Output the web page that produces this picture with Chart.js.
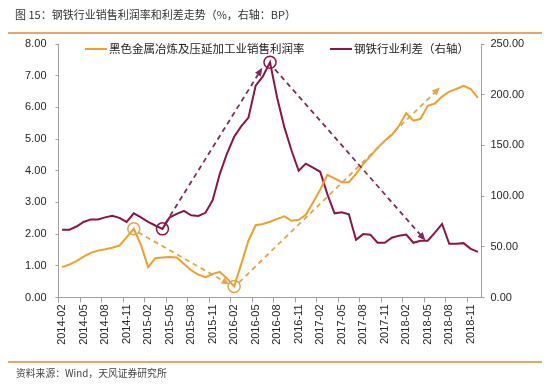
<!DOCTYPE html>
<html>
<head>
<meta charset="utf-8">
<script src="https://cdn.jsdelivr.net/npm/chart.js@4.4.1/dist/chart.umd.min.js"></script>
<style>
  body { margin: 0; background: #fff; }
  #wrap { position: relative; width: 550px; height: 387px; overflow: hidden; background: #fff; }
  #chart { position: absolute; left: 0; top: 0; }
  .txt { position: absolute; white-space: nowrap; font-family: "Noto Sans CJK SC", sans-serif; line-height: 16px; }
  #title { left: 15px; top: 6px; font-size: 11px; color: #333; }
  #source { left: 16px; top: 365px; font-size: 9.8px; color: #444; }
  .rule { position: absolute; left: 8px; width: 534px; background: #e9a566; }
</style>
</head>
<body>
<div id="wrap">
  <canvas id="chart" width="550" height="387"></canvas>
  <div class="txt" id="title">图 15：钢铁行业销售利润率和利差走势（%，右轴：BP）</div>
  <div class="rule" style="top:32px;height:2px"></div>
  <div class="rule" style="top:361px;height:1.5px"></div>
  <div class="txt" id="source">资料来源：Wind，天风证券研究所</div>
</div>
<script>
const months = [
  '2014-02', '2014-03', '2014-04', '2014-05', '2014-06', '2014-07', '2014-08', '2014-09', '2014-10', '2014-11', '2014-12',
  '2015-01', '2015-02', '2015-03', '2015-04', '2015-05', '2015-06', '2015-07', '2015-08', '2015-09', '2015-10', '2015-11', '2015-12',
  '2016-01', '2016-02', '2016-03', '2016-04', '2016-05', '2016-06', '2016-07', '2016-08', '2016-09', '2016-10', '2016-11', '2016-12',
  '2017-01', '2017-02', '2017-03', '2017-04', '2017-05', '2017-06', '2017-07', '2017-08', '2017-09', '2017-10', '2017-11', '2017-12',
  '2018-01', '2018-02', '2018-03', '2018-04', '2018-05', '2018-06', '2018-07', '2018-08', '2018-09', '2018-10', '2018-11', '2018-12'
]

// 黑色金属冶炼及压延加工业销售利润率 (%)
const profitRate = [
  0.96, 1.04, 1.15, 1.29, 1.41, 1.48, 1.52, 1.57, 1.64, 1.90, 2.17,
  1.66, 0.96, 1.24, 1.26, 1.28, 1.26, 1.06, 0.86, 0.72, 0.64, 0.74, 0.81,
  0.60, 0.35, 1.06, 1.80, 2.28, 2.32, 2.39, 2.48, 2.56, 2.42, 2.45, 2.61,
  3.00, 3.40, 3.87, 3.76, 3.64, 3.64, 3.90, 4.21, 4.46, 4.72, 4.95, 5.13,
  5.42, 5.82, 5.58, 5.64, 6.05, 6.12, 6.34, 6.50, 6.58, 6.68, 6.58, 6.30
]

// 钢铁行业利差 (BP)
const spread = [
  66.7, 66.7, 70, 74.5, 77, 77, 79, 80.5, 78.5, 74.5, 83,
  79, 74.5, 71, 67.7, 79, 82.5, 85.4, 81, 80.5, 83.5, 96, 122,
  142, 158.5, 169, 177.5, 209, 218, 232, 197, 168, 145, 125, 132,
  128, 124, 102, 83, 84, 82, 57, 62.5, 62, 54, 54, 59,
  61, 62, 54, 56, 56, 64, 72.5, 53, 53, 53.6, 48, 45
]

const leftTicks = [0, 8, 1]
const rightTicks = [0, 250, 50]

// circled points: [category index, value]
const profitCircles = [[10, 2.17], [24, 0.35]]
const spreadCircles = [[14, 67.7], [29, 232]]

// dashed arrows: [from index, from value, to index, to value]
const profitArrows = [[10.6, 2.06, 23.0, 0.46], [24.7, 0.48, 52.4, 6.56]]
const spreadArrows = [[14.4, 73, 27.7, 224], [29.7, 225, 50.4, 58.5]]

const orange = '#f0a02a'
const maroon = '#8c1446'
const orangeDash = '#e3a450'
const maroonDash = '#7a2c5c'
const axisGray = '#a0a0a0'
const tickFont = { family: '"Liberation Sans", Arial, sans-serif', size: 11 }

const arrow = (ctx, x0, y0, x1, y1, color) => {
    ctx.save()
    ctx.strokeStyle = color
    ctx.lineWidth = 1.8
    ctx.setLineDash([5, 4])
    ctx.beginPath()
    ctx.moveTo(x0, y0)
    ctx.lineTo(x1, y1)
    ctx.stroke()
    const a = Math.atan2(y1 - y0, x1 - x0)
    ctx.setLineDash([])
    ctx.fillStyle = color
    ctx.beginPath()
    ctx.moveTo(x1 + 3 * Math.cos(a), y1 + 3 * Math.sin(a))
    ctx.lineTo(x1 - 5 * Math.cos(a) - 3.5 * Math.sin(a), y1 - 5 * Math.sin(a) + 3.5 * Math.cos(a))
    ctx.lineTo(x1 - 5 * Math.cos(a) + 3.5 * Math.sin(a), y1 - 5 * Math.sin(a) - 3.5 * Math.cos(a))
    ctx.closePath()
    ctx.fill()
    ctx.restore()
}

const circle = (ctx, x, y, color) => {
    ctx.save()
    ctx.strokeStyle = color
    ctx.lineWidth = 1.5
    ctx.beginPath()
    ctx.arc(x, y, 6, 0, Math.PI * 2)
    ctx.stroke()
    ctx.restore()
}

const marksPlugin = {
    id: 'marks',
    afterDatasetsDraw(chart) {
        const { ctx, scales } = chart
        const { x, y, y1 } = scales

        profitArrows.forEach(([a, b, c, d]) =>
            arrow(ctx, x.getPixelForValue(a), y.getPixelForValue(b), x.getPixelForValue(c), y.getPixelForValue(d), orangeDash))
        spreadArrows.forEach(([a, b, c, d]) =>
            arrow(ctx, x.getPixelForValue(a), y1.getPixelForValue(b), x.getPixelForValue(c), y1.getPixelForValue(d), maroonDash))
        profitCircles.forEach(([i, v]) => circle(ctx, x.getPixelForValue(i), y.getPixelForValue(v), orangeDash))
        spreadCircles.forEach(([i, v]) => circle(ctx, x.getPixelForValue(i), y1.getPixelForValue(v), maroon))

        // legend drawn inside the plot, as in the original
        const spots = [85, 330]
        ctx.save()
        ctx.font = '11.5px "Noto Sans CJK SC", sans-serif'
        ctx.textBaseline = 'middle'
        chart.data.datasets.forEach((ds, k) => {
            const lx = spots[k]
            ctx.strokeStyle = ds.borderColor
            ctx.lineWidth = 2
            ctx.beginPath()
            ctx.moveTo(lx, 49)
            ctx.lineTo(lx + 22, 49)
            ctx.stroke()
            ctx.fillStyle = '#222'
            ctx.fillText(ds.label, lx + 24, 49)
        })
        ctx.restore()
    }
}

new Chart('chart', {
    type: 'line',
    data: {
        labels: months,
        datasets: [{
            label: '黑色金属冶炼及压延加工业销售利润率',
            data: profitRate,
            borderColor: orange,
            borderWidth: 2,
            pointRadius: 0,
            yAxisID: 'y'
        }, {
            label: '钢铁行业利差（右轴）',
            data: spread,
            borderColor: maroon,
            borderWidth: 2,
            pointRadius: 0,
            yAxisID: 'y1'
        }]
    },
    options: {
        responsive: false,
        animation: false,
        layout: { padding: { top: 44, left: 0, right: 0, bottom: 0 } },
        plugins: {
            legend: { display: false },
            tooltip: { enabled: false }
        },
        scales: {
            x: {
                offset: true,
                grid: {
                    offset: true,
                    drawOnChartArea: false,
                    tickLength: 5,
                    color: c => c.index % 3 === 0 ? axisGray : 'rgba(0,0,0,0)'
                },
                border: { color: axisGray },
                ticks: {
                    autoSkip: false,
                    minRotation: 90,
                    maxRotation: 90,
                    padding: 2,
                    color: '#262626',
                    font: tickFont,
                    callback: (v, i) => i % 3 === 0 ? months[i] : ''
                },
                afterFit: s => { s.height = 89.5 }
            },
            y: {
                position: 'left',
                min: leftTicks[0],
                max: leftTicks[1],
                grid: { drawOnChartArea: false, tickLength: 3, color: axisGray },
                border: { color: axisGray },
                ticks: { stepSize: leftTicks[2], padding: 9, color: '#262626', font: tickFont, callback: v => v.toFixed(2) },
                afterFit: s => { s.width = 58.5 }
            },
            y1: {
                position: 'right',
                min: rightTicks[0],
                max: rightTicks[1],
                grid: { drawOnChartArea: false, tickLength: 3, color: axisGray },
                border: { color: axisGray },
                ticks: { stepSize: rightTicks[2], padding: 6, color: '#262626', font: tickFont, callback: v => v.toFixed(2) },
                afterFit: s => { s.width = 68.5 }
            }
        }
    },
    plugins: [marksPlugin]
})
</script>
</body>
</html>
